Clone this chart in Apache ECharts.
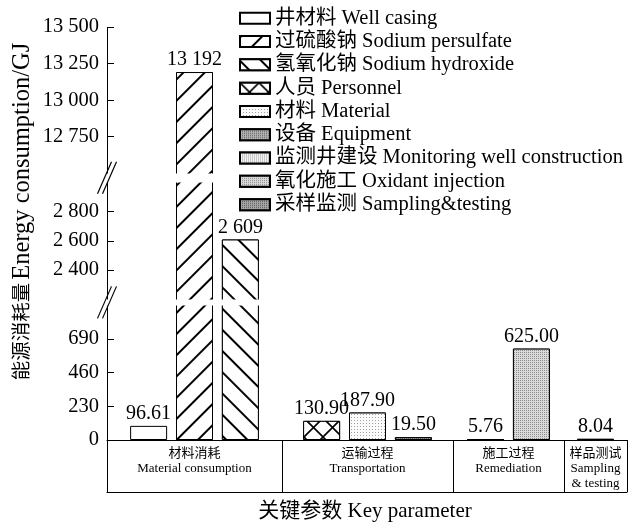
<!DOCTYPE html>
<html>
<head>
<meta charset="utf-8">
<script src="https://cdn.jsdelivr.net/npm/echarts@6/dist/echarts.min.js"></script>
<style>
  html, body { margin: 0; padding: 0; background: #fff; }
  #chart { width: 635px; height: 525px; }
</style>
</head>
<body>
<div id="chart"></div>
<script>
const groupNames = ['材料消耗\nMaterial consumption', '运输过程\nTransportation', '施工过程\nRemediation', '样品测试\nSampling\n& testing'];
const seriesNames = ['井材料 Well casing', '过硫酸钠 Sodium persulfate', '氢氧化钠 Sodium hydroxide', '人员 Personnel', '材料 Material', '设备 Equipment', '监测井建设 Monitoring well construction', '氧化施工 Oxidant injection', '采样监测 Sampling&testing'];
const seriesValues = [96.61, 13192, 2609, 130.90, 187.90, 19.50, 5.76, 625.00, 8.04];
const seriesGroup = [0, 0, 0, 1, 1, 1, 2, 2, 3];
const yTickValues = [0, 230, 460, 690, 2400, 2600, 2800, 12750, 13000, 13250, 13500];
const yBreaks = [[920, 2200], [3000, 12500]];

const FONT = "'Liberation Serif', 'Noto Sans CJK SC', serif";
// pixel edges of the four label boxes under the axis
const groupEdges = [107, 282, 453, 564, 627];

function spaced(v) {
    return String(Math.round(v)).replace(/\B(?=(\d{3})+(?!\d))/g, ' ');
}
function fmtValue(v) {
    return v >= 1000 ? spaced(v) : v.toFixed(2);
}

const hatch = (rot) => ({
    symbol: 'rect', symbolSize: 1, color: '#000', backgroundColor: '#fff',
    dashArrayX: [1, 0], dashArrayY: [1.3, 12.7], rotation: rot
});
const dots = (fg, bg, step) => ({
    symbol: 'rect', symbolSize: 1, color: fg, backgroundColor: bg,
    dashArrayX: [1, step], dashArrayY: [1, step], rotation: 0
});
const styles = [
    { color: '#fff', decal: null },
    { color: '#fff', decal: hatch(-Math.PI / 4) },
    { color: '#fff', decal: hatch(Math.PI / 4) },
    { color: '#fff', decal: {
        symbol: 'path://M0,0L1.2,0L20,18.8L20,20L18.8,20L0,1.2ZM20,0L20,1.2L1.2,20L0,20L0,18.8L18.8,0Z',
        symbolSize: 1, color: '#000', backgroundColor: '#fff',
        dashArrayX: [19, 0], dashArrayY: [19, 0], rotation: 0, symbolKeepAspect: false } },
    { color: '#f2f2f2', decal: dots('#a0a0a0', '#fbfbfb', 2) },
    { color: '#9a9a9a', decal: dots('#666', '#b0b0b0', 1) },
    { color: '#e6e6e6', decal: dots('#a0a0a0', '#f2f2f2', 1) },
    { color: '#c4c4c4', decal: dots('#8c8c8c', '#dadada', 1) },
    { color: '#8c8c8c', decal: dots('#5a5a5a', '#a6a6a6', 1) }
];

const grids = [], xAxes = [], yAxes = [];
groupNames.forEach((g, i) => {
    grids.push({ left: groupEdges[i], width: groupEdges[i + 1] - groupEdges[i], top: 27, height: 413 });
    xAxes.push({
        type: 'category', gridIndex: i, data: [g], position: 'bottom',
        axisLine: { lineStyle: { color: '#000', width: 1 } },
        axisTick: { show: true, length: 52, lineStyle: { color: '#000', width: 1 } },
        axisLabel: { margin: 6, fontSize: 13, lineHeight: 15, color: '#000', fontFamily: FONT, interval: 0 }
    });
    xAxes.push({
        type: 'category', gridIndex: i, data: [''], position: 'bottom', offset: 52,
        axisLine: { lineStyle: { color: '#000', width: 1 } },
        axisTick: { show: false }, axisLabel: { show: false }
    });
    yAxes.push({
        type: 'value', gridIndex: i, min: 0, max: 13500, show: i === 0,
        breaks: yBreaks.map(([s, e], k) => ({ start: s, end: e, gap: k === 0 ? 42 : 62 })),
        breakArea: {
            show: true, expandOnClick: false, zigzagAmplitude: 0,
            itemStyle: { color: '#fff', borderWidth: 0, opacity: 1 }
        },
        name: '{cn|能源消耗量} {en|Energy consumption/GJ}', nameLocation: 'middle', nameGap: 72,
        nameTextStyle: {
            color: '#000', fontFamily: FONT, padding: [0, 0, 0, 44],
            rich: {
                cn: { fontSize: 19.5, fontFamily: FONT, color: '#000' },
                en: { fontSize: 24.5, fontFamily: FONT, color: '#000' }
            }
        },
        axisLine: { show: true, lineStyle: { color: '#000', width: 1 } },
        axisTick: { show: true, inside: true, length: 7, customValues: yTickValues, lineStyle: { color: '#000' } },
        axisLabel: { customValues: yTickValues, margin: 8, fontSize: 20.5, color: '#000', fontFamily: FONT,
            formatter: v => (v >= 1000 ? spaced(v) : String(v)) },
        splitLine: { show: false }
    });
});

const series = seriesNames.map((name, k) => ({
    name: name, type: 'bar',
    xAxisIndex: seriesGroup[k] * 2, yAxisIndex: seriesGroup[k],
    data: [seriesValues[k]],
    barWidth: 37, barGap: '24%',
    itemStyle: { color: styles[k].color, borderColor: '#000', borderWidth: 1, decal: styles[k].decal },
    label: { show: true, position: 'top', distance: 2, fontSize: 20, color: '#000', fontFamily: FONT,
        formatter: p => fmtValue(p.value) }
}));

const option = {
    animation: false,
    backgroundColor: '#fff',
    title: {
        text: '关键参数 Key parameter', left: 360, top: 496, textAlign: 'center',
        textStyle: { fontSize: 21, fontWeight: 'normal', color: '#000', fontFamily: FONT }
    },
    legend: {
        orient: 'vertical', left: 234, top: 3, itemWidth: 30, itemHeight: 11, itemGap: 2.8,
        icon: 'rect', selectedMode: false, zlevel: 1, z: 50,
        textStyle: { fontSize: 20.5, lineHeight: 19, color: '#000', fontFamily: FONT },
        data: seriesNames
    },
    grid: grids,
    xAxis: xAxes,
    yAxis: yAxes,
    series: series
};

const chart = echarts.init(document.getElementById('chart'), null, { renderer: 'canvas' });
chart.setOption(option);

// double-slash break marks on the y axis
const ax = groupEdges[0];
const marks = [];
yBreaks.forEach(([s, e]) => {
    const cy = (chart.convertToPixel({ yAxisIndex: 0 }, s) + chart.convertToPixel({ yAxisIndex: 0 }, e)) / 2;
    [-2.5, 2.5].forEach(dx => marks.push({
        type: 'line', z: 100,
        shape: { x1: ax + dx - 7, y1: cy + 16, x2: ax + dx + 7, y2: cy - 16 },
        style: { stroke: '#000', lineWidth: 1.2 }
    }));
});
chart.setOption({ graphic: marks });
</script>
</body>
</html>
